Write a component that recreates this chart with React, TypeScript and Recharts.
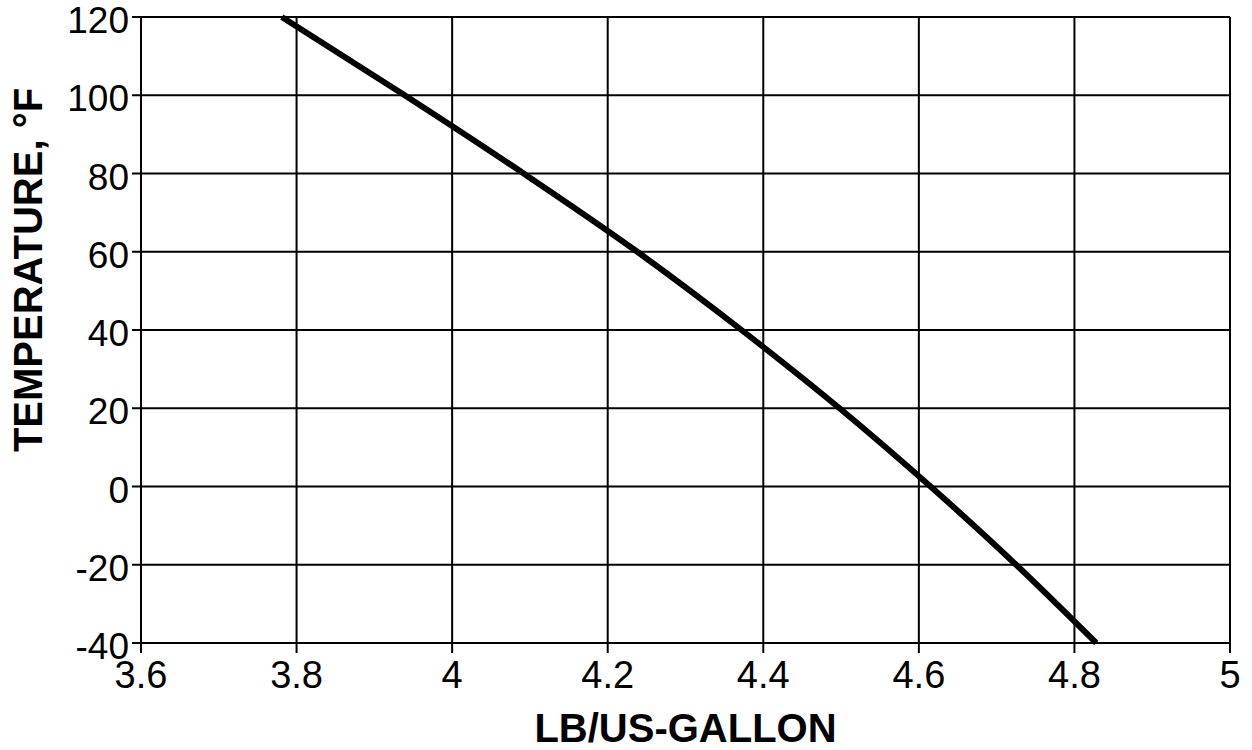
import { LineChart, Line, XAxis, YAxis, CartesianGrid, Label } from "recharts";

// one point per 20 °F
const density = [3.781, 3.939, 4.092, 4.238, 4.372, 4.498, 4.615, 4.725, 4.828];
const temperature = [120, 100, 80, 60, 40, 20, 0, -20, -40];

const xTicks = [3.6, 3.8, 4, 4.2, 4.4, 4.6, 4.8, 5];
const yTicks = [-40, -20, 0, 20, 40, 60, 80, 100, 120];

const data = density
  .map((d, i) => ({ x: d, y: temperature[i] }))
  .sort((a, b) => a.x - b.x);

const font = "'Liberation Sans', Arial, sans-serif";

export default function App() {
  return (
    <div style={{ position: "absolute", left: 0, top: 0, background: "#fff" }}>
      <LineChart
        width={1252}
        height={750}
        data={data}
        margin={{ top: 17, right: 22, bottom: 0, left: 0 }}
      >
        <CartesianGrid stroke="#000" strokeWidth={2} />
        <XAxis
          dataKey="x"
          type="number"
          domain={[3.6, 5]}
          ticks={xTicks}
          interval={0}
          height={107}
          tickSize={10}
          tickMargin={8}
          axisLine={{ stroke: "#000", strokeWidth: 2 }}
          tickLine={{ stroke: "#000", strokeWidth: 2 }}
          tick={{ fill: "#000", fontSize: 38, fontFamily: font }}
          tickFormatter={(v: number) => String(v)}
        >
          <Label
            value="LB/US-GALLON"
            position="insideBottom"
            offset={8}
            style={{ fill: "#000", fontSize: 40, fontWeight: 700, fontFamily: font }}
          />
        </XAxis>
        <YAxis
          type="number"
          domain={[-40, 120]}
          ticks={yTicks}
          interval={0}
          width={141}
          tickSize={9}
          tickMargin={3}
          axisLine={{ stroke: "#000", strokeWidth: 2 }}
          tickLine={{ stroke: "#000", strokeWidth: 2 }}
          tick={{ fill: "#000", fontSize: 37, fontFamily: font, dy: 3 }}
        >
          <Label
            content={() => (
              <text
                x={28}
                y={270}
                transform="rotate(-90 28 270)"
                textAnchor="middle"
                dominantBaseline="central"
                style={{ fill: "#000", fontSize: 40, fontWeight: 700, fontFamily: font }}
              >
                TEMPERATURE, °F
              </text>
            )}
          />
        </YAxis>
        <Line
          type="monotone"
          dataKey="y"
          stroke="#000"
          strokeWidth={6}
          dot={false}
          isAnimationActive={false}
        />
      </LineChart>
    </div>
  );
}
